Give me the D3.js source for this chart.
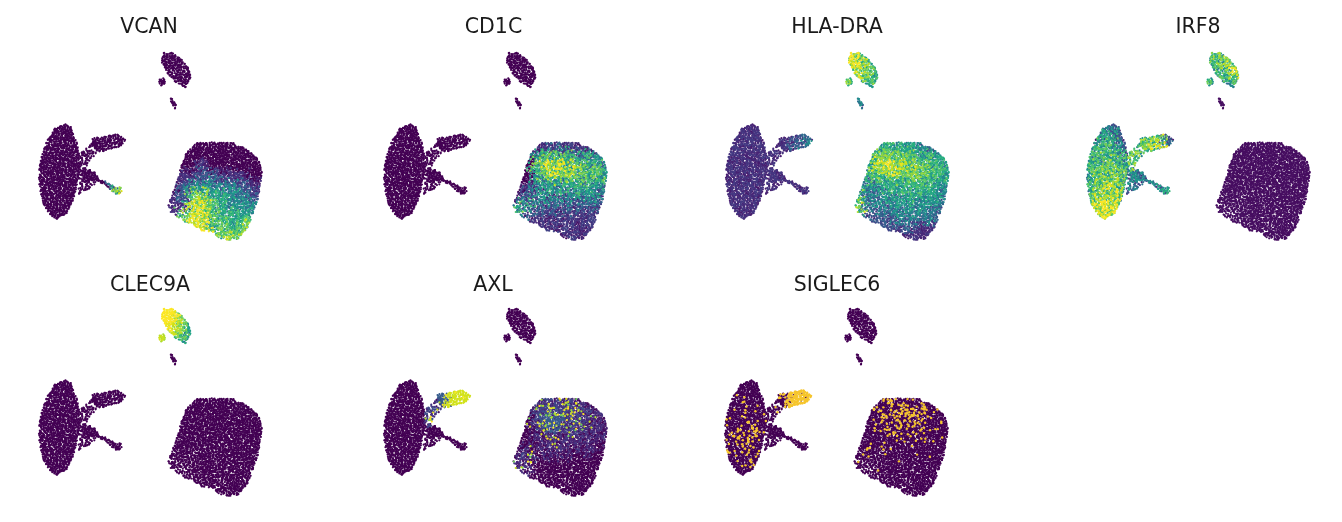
<!DOCTYPE html>
<html><head><meta charset="utf-8">
<script src="https://cdn.jsdelivr.net/npm/d3@7"></script>
<style>html,body{margin:0;background:#fff}svg{display:block}</style></head>
<body><svg id="c" width="1342" height="522"></svg>
<script>
const genes = ["VCAN","CD1C","HLA-DRA","IRF8","CLEC9A","AXL","SIGLEC6"];

// cluster outlines (embedding units)
const leftBlob = [[135,252],[155,262],[160,285],[172,310],[178,340],[178,380],[172,430],[160,480],[140,520],[112,537],[90,525],[72,495],[62,460],[55,415],[60,370],[70,330],[85,295],[105,265]];
const upperLobe = [[215,294],[255,290],[295,280],[318,302],[300,320],[270,330],[240,336],[222,318]];
const connector = [[176,345],[225,302],[238,332],[205,365],[195,395],[176,395]];
const middle = [[193,388],[225,395],[240,420],[205,428],[190,410]];
const sparse = [[176,380],[205,385],[245,425],[190,458],[176,462]];
const tail = [[240,415],[262,426],[285,442],[306,442],[304,465],[288,465],[258,436],[238,427]];
const topCluster = [[430,38],[455,38],[485,58],[505,85],[514,115],[495,144],[470,130],[440,97],[424,65]];
const smallCluster = [[415,120],[430,111],[438,128],[422,139]];
const tinyCluster = [[449,176],[456,176],[472,202],[464,206]];
const rightBlob = [[530,308],[580,306],[640,308],[680,328],[715,358],[727,400],[717,470],[702,510],[685,560],[655,597],[625,600],[598,594],[580,578],[545,572],[495,545],[443,512],[448,480],[468,435],[483,380],[498,340]];

// point density in the right cluster
const rightDensity = ["8888888888","9999999999","9999999999","9999999999","8888888888","6777888888","5578888888","4467888888","4556768888","8888878888"];

// expression estimates per gene, right cluster
const rightVCAN = ["0000000000","0000000000","0001000000","0112211100","0234433211","1267554322","1178654443","1688655554","4688565675","8888867777"];
const rightCD1C = ["0011211100","0035554432","0057776554","0046665554","0134444443","1233333332","5422222221","4211111111","1111111111","1111111111"];
const rightHLA = ["3355544333","3566665544","3578776655","3566666554","3345555544","6334454443","7333444432","5222333321","2222221111","1111111111"];
const rightIRF8 = ["0"];
const rightCLEC = ["0"];
const rightAXL = ["0023322100","0023333211","0024433211","0012222111","0011211110","1201110100","2200000000","2100000000","0000000000","0000000000"];
const rightSIGLEC = ["0004543000","0045655410","0034544321","0024343321","0013332211","1212211100","2110100000","0000000000","0000000000","0000000000"];

// left cluster
const leftIRF8 = ["04310","04421","45531","55653","56664","56665","56765","67775","78875","78875"];
const leftHLA = ["1"];
const leftZero = ["0"];
const leftSIGLEC = ["00000","01100","01210","12221","13331","24441","24442","24431","13310","01100"];

// top cluster
const topHLA = ["88754","88765","78765","77765","66665","55555"];
const topIRF8 = ["56677","56677","55677","55567","55455","44444"];
const topCLEC = ["99976","99975","99875","98875","98764","88654"];
const topZero = ["0"];

const rightGrids = [rightVCAN,rightCD1C,rightHLA,rightIRF8,rightCLEC,rightAXL,rightSIGLEC];
const leftGrids = [leftZero,leftZero,leftHLA,leftIRF8,leftZero,leftZero,leftSIGLEC];
const topGrids = [topZero,topZero,topHLA,topIRF8,topCLEC,topZero,topZero];
const smallValues = [0,0,6,5,8,0,0];
const tinyValues = [0,0,3,0,0,0,0];
const lobeValues = [[0,0,0],[0,0,0],[1,2,3],[6,7,2],[0,0,0],[4,9,9],[4,8,9]];
const connectorValues = [0,0,1,6,0,3,2];
const middleValues = [0,0,1,3,0,0,0];
const tailValues = [[0,3,7],[0,0,0],[1,1,1],[3,4,4],[0,0,0],[0,0,0],[0,0,0]];
const speckle = [1.5,2.4,1.7,2,.4,1.6,0];

// panel placement, px
const panelDX = [0,345,687,1048,0,345,686];
const panelDY = [0,0,0,0,256,256,256];
const titleX = [149,493.5,837,1198,150,493,837];
const titleY = [33,33,33,33,290.5,290.5,290.5];

// fixed texture for the speckle (digits of pi)
const tile = "314159265358979323846264338327950288419716939937510582097494459230781640628620899862803482534211706798214808651328230664709384460955058223172535940812848111745028410270193852110555964462294895493038196".split("").map(Number);
const N = tile.length;

const x = d3.scaleLinear().domain([0,780]).range([20,280]);
const y = d3.scaleLinear().domain([0,630]).range([40,250]);
const color = d3.scaleSequential(d3.interpolateViridis).domain([0,9]).clamp(true);

const at = (g,px,py,x0,y0,s)=>{
  if(g.length===1&&g[0].length===1) return +g[0];
  const r=g[Math.max(0,Math.min(g.length-1,Math.floor((py-y0)/s)))];
  return +r[Math.max(0,Math.min(r.length-1,Math.floor((px-x0)/s)))];
};
const tex = (i,j,k)=>(tile[(i*23+j*41+k*7)%N]+tile[(i*i+3*j*j+i*j+k*11)%N])%10;
const tex2 = (i,j)=>tile[(5*i*i+31*j+i*j)%N]*10+tile[(11*j*j+17*i+3*i*j)%N];

const clusters = [
 {poly:leftBlob, dens:()=>.99, val:(g,a,b)=>at(leftGrids[g],a,b,50,250,30)},
 {poly:upperLobe, dens:()=>.78, val:(g,a,b)=>at([lobeValues[g].join("")],a,b,215,280,35)},
 {poly:connector, dens:()=>.5, val:g=>connectorValues[g]},
 {poly:middle, dens:()=>.7, val:g=>middleValues[g]},
 {poly:sparse, dens:()=>.42, val:g=>middleValues[g]},
 {poly:tail, dens:()=>.9, val:(g,a,b)=>at([tailValues[g].join("")],a,b,240,415,24)},
 {poly:topCluster, dens:()=>.85, val:(g,a,b)=>at(topGrids[g],a,b,415,35,20)},
 {poly:smallCluster, dens:()=>1, val:g=>smallValues[g]},
 {poly:tinyCluster, dens:()=>1, val:g=>tinyValues[g]},
 {poly:rightBlob, dens:(a,b)=>Math.min(1,at(rightDensity,a,b,440,305,30)/8.6), val:(g,a,b)=>at(rightGrids[g],a,b,440,305,30)}
];

const svg = d3.select("#c");
const step = 3.9;
genes.forEach((gene,g)=>{
  const marks=[];
  clusters.forEach(c=>{
    const [x0,y0,x1,y1]=[d3.min(c.poly,p=>p[0])-6,d3.min(c.poly,p=>p[1])-6,d3.max(c.poly,p=>p[0])+6,d3.max(c.poly,p=>p[1])+6];
    let j=0;
    for(let b=y0;b<=y1;b+=step,j++){
      let i=0;
      for(let a=x0+(j%2?step/2:0);a<=x1;a+=step,i++){
        const px=a+(tex(i,j,1)-4.5)*.7, py=b+(tex(i,j,2)-4.5)*.7;
        if(!d3.polygonContains(c.poly,[px,py])) continue;
        const dens=c.dens(px,py);
        if(dens<1&&tex(i,j,3)*10+tex(i,j,4)>=dens*100) continue;
        // sample position is dithered so grid cell borders do not show
        let v=c.val(g,px+(tex(i,j,8)-4.5)*3.5,py+(tex(i,j,9)-4.5)*3.5), hot=false;
        const n=tex2(i,j);
        if(gene==="SIGLEC6"){
          hot = v>=8 ? n<92 : n < v*v*.6;
          v = hot?8.6:0;
        } else if(gene==="AXL"){
          const base=v;
          v = base*.42 + (base>0?speckle[g]*.6*(tex(i,j,5)-4.5)/4.5:0);
          if(base>=2&&n>=92) v=7+tex(i,j,6)/4;
          if(base>=8) v=Math.max(v,8.4);
          if(base===4) v=Math.max(v,2.5);
          v=Math.max(v,0);
        } else {
          v = v + speckle[g]*Math.min(1,v/3)*(tex(i,j,5)-4.5)/4.5;
          v = Math.max(v,gene==="IRF8"?.35:gene==="HLA-DRA"?.6:0);
        }
        marks.push({px,py,v,hot});
      }
    }
  });
  marks.sort((p,q)=>p.v-q.v);
  const xs=x.copy().range(x.range().map(d=>d+panelDX[g]));
  const ys=y.copy().range(y.range().map(d=>d+panelDY[g]));
  const grp=svg.append("g").attr("class","panel").style("filter","blur(0.3px)");
  grp.selectAll("circle").data(marks).join("circle")
    .attr("cx",d=>xs(d.px)).attr("cy",d=>ys(d.py))
    .attr("r",d=>d.hot?1.2:1.1)
    .attr("fill",d=>d.hot?"#f6c52c":color(d.v));
  svg.append("text").attr("x",titleX[g]).attr("y",titleY[g]).attr("text-anchor","middle")
    .attr("font-family","DejaVu Sans").attr("font-size",20.5).attr("fill","#1a1a1a")
    .style("filter","blur(0.3px)").text(gene);
});
</script></body></html>
